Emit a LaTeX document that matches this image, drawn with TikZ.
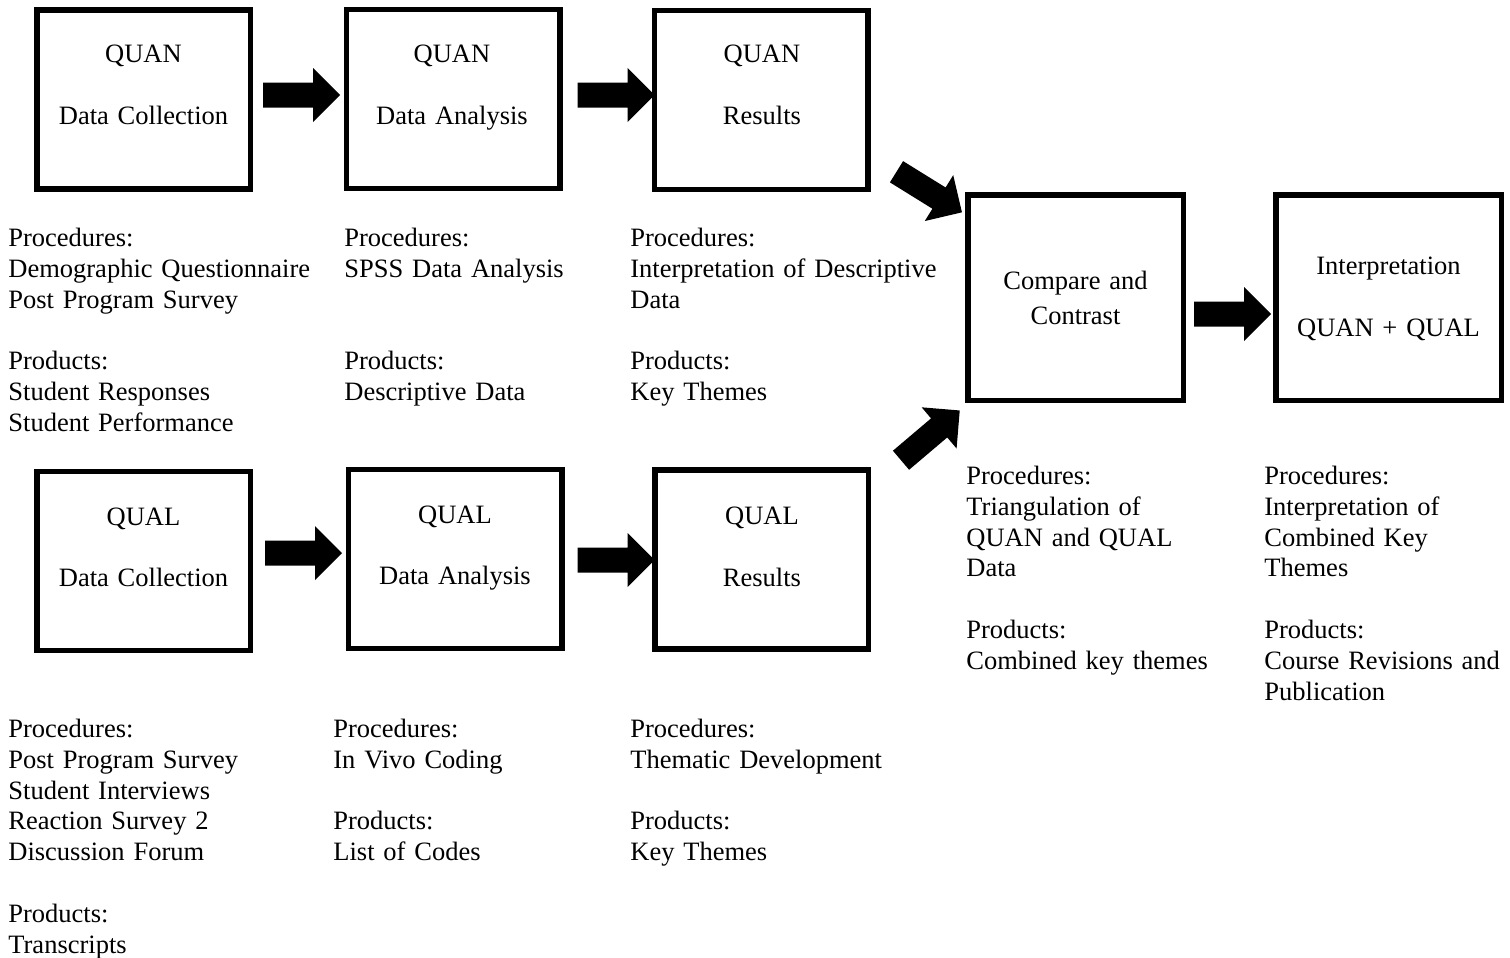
\documentclass[tikz,border=0pt]{standalone}
\usepackage{fontspec}
\setmainfont{Liberation Serif}
\usetikzlibrary{calc}
\begin{document}
\begin{tikzpicture}[x=0.5pt,y=-0.5pt,
  font=\fontsize{13.25pt}{15.4pt}\selectfont,
  box/.style={draw, line width=2.75pt, minimum width=106.75pt, minimum height=89.5pt, inner sep=0pt},
  bigbox/.style={box, minimum height=102.75pt},
  boxtext/.style={anchor=base, text width=105pt, align=center, inner sep=0pt},
  info/.style={anchor=base west, text width=158pt, align=left, inner sep=0pt},
  blockarrow/.pic={\fill (0,-12.5) -- (50,-12.5) -- (50,-27) -- (77,0) -- (50,27) -- (50,12.5) -- (0,12.5) -- cycle;}
]
\useasboundingbox (0,0) rectangle (1510,958);

% boxes
\node[box] (q1) at (143.5,99.5) {};
\node[box] (q2) at (453,99) {};
\node[box] (q3) at (761,100) {};
\node[box] (l1) at (143.5,561) {};
\node[box] (l2) at (455,559) {};
\node[box] (l3) at (761.5,559.5) {};
\node[bigbox, minimum width=107.75pt] (cc) at (1075.5,297.5) {};
\node[bigbox, minimum width=112.75pt] (ip) at (1388.5,297.5) {};

% box texts
\node[boxtext] (q1t) at (143.5,62) {QUAN\\[16pt]Data Collection};
\node[boxtext] (q2t) at (452,62) {QUAN\\[16pt]Data Analysis};
\node[boxtext] (q3t) at (762,62) {QUAN\\[16pt]Results};
\node[boxtext] (l1t) at (143.5,525) {QUAL\\[15.5pt]Data Collection};
\node[boxtext] (l2t) at (455,523) {QUAL\\[15.5pt]Data Analysis};
\node[boxtext] (l3t) at (762,524) {QUAL\\[16pt]Results};
\node[boxtext] (cct) at (1075.5,289) {Compare and\\[2.1pt]Contrast};
\node[boxtext] (ipt) at (1388.5,274) {Interpretation\\[16pt]QUAN + QUAL};

% arrow anchors
\coordinate (a1) at ($(q1.east)+(10,-4.5)$);
\coordinate (a2) at ($(q2.east)+(15,-4)$);
\coordinate (a3) at ($(l1.east)+(12,-8)$);
\coordinate (a4) at ($(l2.east)+(13,1)$);
\coordinate (a5) at ($(q3.south east)+(26,-20.5)$);
\coordinate (a6) at ($(l3.north east)+(30,-7)$);
\coordinate (a7) at ($(cc.east)+(8,16.5)$);

\pic at (a1) {blockarrow};
\pic at (a2) {blockarrow};
\pic at (a3) {blockarrow};
\pic at (a4) {blockarrow};
\pic[rotate=-31.8] at (a5) {blockarrow};
\pic[rotate=40.3] at (a6) {blockarrow};
\pic at (a7) {blockarrow};

% text blocks
\node[info] (b1) at (8,246.5) {Procedures:\\Demographic Questionnaire\\Post Program Survey\\[15.4pt]Products:\\Student Responses\\Student Performance};
\node[info] (b2) at (344,246.5) {Procedures:\\SPSS Data Analysis\\[30.8pt]Products:\\Descriptive Data};
\node[info] (b3) at (630,246.5) {Procedures:\\Interpretation of Descriptive\\Data\\[15.4pt]Products:\\Key Themes};
\node[info, text width=125pt] (b4) at (966,484.5) {Procedures:\\Triangulation of\\QUAN and QUAL\\Data\\[15.4pt]Products:\\Combined key themes};
\node[info, text width=120pt] (b5) at (1264,484.5) {Procedures:\\Interpretation of\\Combined Key\\Themes\\[15.4pt]Products:\\Course Revisions and\\Publication};
\node[info] (b6) at (8,737.5) {Procedures:\\Post Program Survey\\Student Interviews\\Reaction Survey 2\\Discussion Forum\\[15.4pt]Products:\\Transcripts};
\node[info] (b7) at (333,737.5) {Procedures:\\In Vivo Coding\\[15.4pt]Products:\\List of Codes};
\node[info] (b8) at (630,737.5) {Procedures:\\Thematic Development\\[15.4pt]Products:\\Key Themes};
\end{tikzpicture}
\end{document}
